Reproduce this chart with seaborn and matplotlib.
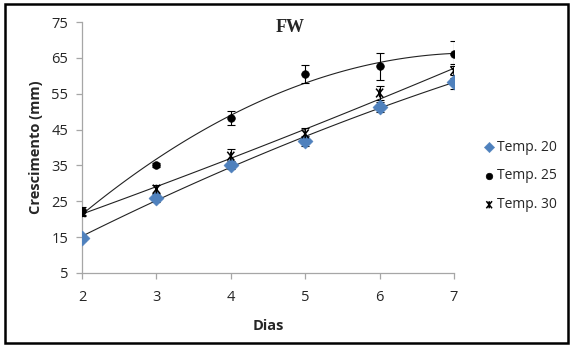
import numpy as np
import pandas as pd
import matplotlib
matplotlib.use("Agg")
import matplotlib.pyplot as plt
import seaborn as sns
from matplotlib.patches import Rectangle
from matplotlib.path import Path

dias = [2, 3, 4, 5, 6, 7]
temp20 = [14.8, 25.9, 35.1, 41.8, 51.3, 58.3]
temp25 = [22.3, 35.1, 48.2, 60.6, 62.6, 66.2]
temp30 = [21.8, 28.4, 37.6, 43.8, 55.2, 61.4]
err20 = [0.8, 1.0, 1.2, 1.5, 1.5, 2.0]
err25 = [1.0, 0.6, 2.0, 2.5, 3.8, 3.5]
err30 = [1.0, 1.2, 2.0, 1.5, 2.0, 2.0]
series_names = ["Temp. 20", "Temp. 25", "Temp. 30"]

sns.set_style("white")
plt.rcParams['font.family'] = ['Open Sans', 'DejaVu Sans']

fig = plt.figure(figsize=(5.73, 3.49), dpi=100)
ax = fig.add_axes([82/573, 1-273/349, (454-82)/573, (273-22)/349])

star_path = Path(
    [(-0.8, -1), (0.8, 1), (-0.8, 1), (0.8, -1), (0, -1), (0, 1)],
    [Path.MOVETO, Path.LINETO, Path.MOVETO, Path.LINETO, Path.MOVETO, Path.LINETO],
)

blue = "#4F81BD"
styles = [
    dict(marker="D", color=blue, s=60, edgecolor=blue, linewidth=0.3),
    dict(marker="o", color="black", s=30, edgecolor="black", linewidth=0.5),
    dict(marker=star_path, facecolor="none", edgecolor="black", s=40, linewidth=1.1),
]
vals = [temp20, temp25, temp30]
errs = [err20, err25, err30]

for name, y, e, st in zip(series_names, vals, errs, styles):
    df = pd.DataFrame({"Dias": dias, "y": y})
    sns.regplot(data=df, x="Dias", y="y", order=2, ci=None, scatter=False,
                truncate=True, ax=ax, line_kws=dict(color="#222222", lw=0.8), label="_nolegend_")
    ax.errorbar(dias, y, yerr=e, fmt="none", ecolor="black", elinewidth=0.8,
                capsize=3, capthick=0.8, zorder=3)
    sns.scatterplot(data=df, x="Dias", y="y", ax=ax, label=name, zorder=4, **st)

ax.set_xlim(2, 7)
ax.set_ylim(5, 75)
ax.set_xticks(dias)
ax.set_yticks([5, 15, 25, 35, 45, 55, 65, 75])
for s in ["top", "right"]:
    ax.spines[s].set_visible(False)
for s in ["left", "bottom"]:
    ax.spines[s].set_color("#A6A6A6")
    ax.spines[s].set_linewidth(0.9)
ax.tick_params(axis="both", which="major", length=4, width=0.9, color="#A6A6A6",
               labelsize=10.5, labelcolor="#262626", direction="out", pad=6)
ax.tick_params(axis="x", pad=8)
ax.tick_params(bottom=True, left=True)
ax.set_xlabel("Dias", fontsize=10.5, fontweight="bold", labelpad=10)
ax.set_ylabel("Crescimento (mm)", fontsize=10.5, fontweight="bold", labelpad=6)

fig.text(290/573, 1-28/349, "FW", family="Liberation Serif", fontweight="bold",
         fontsize=13, ha="center", va="center")

leg = ax.legend(loc="center left", bbox_to_anchor=(476/573, 1-176/349),
                bbox_transform=fig.transFigure, frameon=False, fontsize=10,
                handletextpad=0.1, labelspacing=1.0, handlelength=0.9, borderpad=0)
for h, sz in zip(leg.legend_handles, [28, 22, 26]):
    h.set_sizes([sz])

fig.patches.append(Rectangle((5/573, 6/349), 563/573, 339/349, transform=fig.transFigure,
                             fill=False, edgecolor="black", linewidth=1.8))

fig.savefig("out.png", dpi=100)
